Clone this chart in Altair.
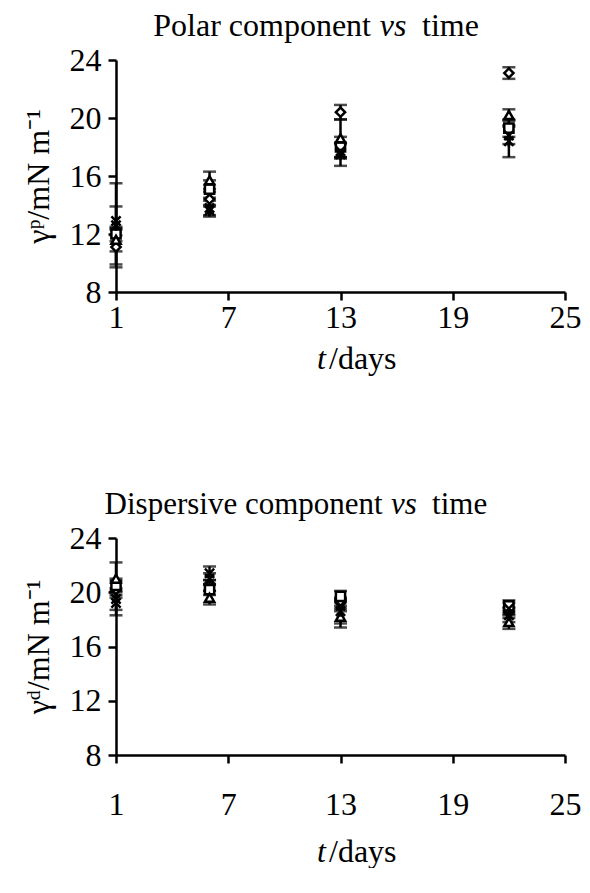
import altair as alt
import pandas as pd

days = [1, 6, 13, 22]
series = ["diamond", "square", "triangle", "cross", "star"]

# Polar component (gamma p)
polar_diamond = [11.1, 14.4, 20.4, 23.1]
polar_square = [12.0, 15.1, 18.0, 19.3]
polar_triangle = [11.6, 15.7, 18.6, 20.2]
polar_cross = [12.9, 13.8, 17.7, 18.8]
polar_star = [12.6, 13.6, 17.5, 18.4]
polar_diamond_err = [1.2, 0.5, 0.5, 0.4]
polar_square_err = [0.5, 0.6, 0.7, 0.6]
polar_triangle_err = [0.8, 0.6, 1.3, 0.4]
polar_cross_err = [1.0, 0.5, 0.5, 0.6]
polar_star_err = [2.9, 0.4, 0.8, 1.1]

# Dispersive component (gamma d)
disp_diamond = [20.2, 20.5, 19.2, 18.5]
disp_square = [20.5, 20.2, 19.7, 19.0]
disp_triangle = [21.0, 19.6, 18.2, 17.8]
disp_cross = [19.2, 21.4, 19.0, 18.8]
disp_star = [19.5, 21.0, 18.6, 18.3]
disp_diamond_err = [0.6, 0.4, 0.4, 0.4]
disp_square_err = [0.5, 0.4, 0.4, 0.4]
disp_triangle_err = [1.2, 0.5, 0.8, 0.5]
disp_cross_err = [0.9, 0.5, 0.4, 0.4]
disp_star_err = [0.8, 0.4, 0.9, 0.5]

x_ticks = [1, 7, 13, 19, 25]
y_ticks = [8, 12, 16, 20, 24]

FONT = "Liberation Serif"
FS = 32
W = 449


def frame(vals, errs):
    rows = []
    for name, v, e in zip(series, vals, errs):
        for d, vv, ee in zip(days, v, e):
            rows.append({"day": d, "value": vv, "err": ee, "series": name})
    return pd.DataFrame(rows)


polar_df = frame(
    [polar_diamond, polar_square, polar_triangle, polar_cross, polar_star],
    [polar_diamond_err, polar_square_err, polar_triangle_err, polar_cross_err, polar_star_err],
)
disp_df = frame(
    [disp_diamond, disp_square, disp_triangle, disp_cross, disp_star],
    [disp_diamond_err, disp_square_err, disp_triangle_err, disp_cross_err, disp_star_err],
)

X_PATH = "M-1,-1L1,1M-1,1L1,-1"
STAR_PATH = "M-1,-1L1,1M-1,1L1,-1M0,-1.2L0,1.2"
shape_scale = alt.Scale(domain=series, range=["diamond", "square", "triangle-up", X_PATH, STAR_PATH])


def label(text, x, y, align="left", italic=False, fs=FS):
    return alt.Chart(pd.DataFrame({"t": [text]})).mark_text(
        font=FONT, fontSize=fs, align=align, baseline="alphabetic", color="black",
        fontStyle="italic" if italic else "normal",
    ).encode(text="t:N", x=alt.value(x), y=alt.value(y))


def panel(df, title_a, vs_center, title_fs, ytitle, h, xlab_pad, xtitle_y):
    base = alt.Chart(df).transform_calculate(
        lo="datum.value - datum.err", hi="datum.value + datum.err"
    )
    xenc = alt.X(
        "day:Q",
        scale=alt.Scale(domain=[1, 25], nice=False, zero=False),
        axis=alt.Axis(values=x_ticks, title=None, grid=False, labelFlush=False, labelPadding=xlab_pad),
    )
    yscale = alt.Scale(domain=[8, 24], nice=False, zero=False)
    yaxis = alt.Axis(values=y_ticks, title=ytitle, grid=False)
    rules = base.mark_rule(color="black", strokeWidth=2.5).encode(
        x=xenc, y=alt.Y("lo:Q", scale=yscale, axis=yaxis), y2="hi:Q"
    )
    cap_lo = base.mark_tick(color="black", orient="horizontal", size=13, thickness=2.5).encode(
        x=xenc, y=alt.Y("lo:Q", scale=yscale)
    )
    cap_hi = base.mark_tick(color="black", orient="horizontal", size=13, thickness=2.5).encode(
        x=xenc, y=alt.Y("hi:Q", scale=yscale)
    )
    pts = base.mark_point(fill="white", stroke="black", strokeWidth=2.5, opacity=1, size=85).encode(
        x=xenc,
        y=alt.Y("value:Q", scale=yscale),
        shape=alt.Shape("series:N", scale=shape_scale, legend=None),
    )
    k = title_fs / 32
    texts = [
        label(title_a, vs_center - 22 * k, -24, align="right", fs=title_fs),
        label("vs", vs_center, -24, align="center", italic=True, fs=title_fs),
        label("time", vs_center + 29 * k, -24, align="left", fs=title_fs),
        label("t", 201, xtitle_y, align="left", italic=True),
        label("/days", 213, xtitle_y, align="left"),
    ]
    return alt.layer(rules, cap_lo, cap_hi, pts, *texts).properties(width=W, height=h)


top = panel(polar_df, "Polar component", 277, 32, "\u03b3\u1d56/mN m\u207b\u00b9", 232, 2, 309)
bottom = panel(disp_df, "Dispersive component", 288, 31, "\u03b3\u1d48/mN m\u207b\u00b9", 217, 26, 324)

chart = alt.vconcat(top, bottom, spacing=114).properties(
    padding={"left": 14, "top": 2, "right": 0, "bottom": 0}
).configure_view(stroke=None).configure_axis(
    domainColor="black",
    domainWidth=2.5,
    tickColor="black",
    tickWidth=2.5,
    tickSize=8,
    labelFont=FONT,
    labelFontSize=FS,
    labelColor="black",
    titleFont=FONT,
    titleFontSize=FS,
    titleFontWeight="normal",
    titleColor="black",
).configure_axisY(titlePadding=14, labelPadding=7)

chart.save("out.html", embed_options={"renderer": "svg", "actions": False})
